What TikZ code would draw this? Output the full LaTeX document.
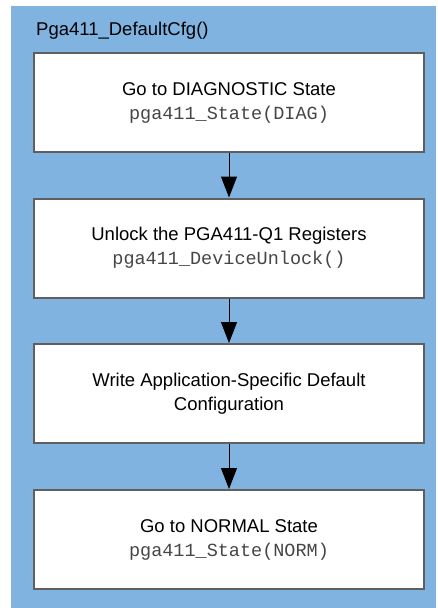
\documentclass[tikz,border=0pt]{standalone}
\usepackage{fontspec}
\setmainfont{Liberation Sans}
\setmonofont{Liberation Mono}
\usetikzlibrary{arrows.meta}
\definecolor{bgblue}{RGB}{128,179,224}
\definecolor{boxgrey}{RGB}{95,95,95}
\definecolor{codegrey}{RGB}{70,70,70}
\newcommand{\codetxt}[1]{{\color{codegrey}\texttt{#1}}}
\begin{document}
\begin{tikzpicture}[x=1pt,y=-1pt,
  stepbox/.style={draw=boxgrey,line width=2pt,fill=white,minimum width=390pt,minimum height=99pt,
    align=center,inner sep=0pt,font=\fontsize{18.5}{24}\selectfont},
  flow/.style={draw=black,line width=1pt,-{Triangle[width=16pt,length=21pt]}}]
\useasboundingbox (0,0) rectangle (438,608);
\fill[bgblue] (11,6) rectangle (436,608);
\node[anchor=west,inner sep=0pt,font=\fontsize{18.5}{22}\selectfont] (title) at (36,31) {Pga411\_DefaultCfg()};
\node[stepbox] (s1) at (229,102.5) {Go to DIAGNOSTIC State\\\codetxt{pga411\_State(DIAG)}};
\node[stepbox] (s2) at (229,248) {Unlock the PGA411-Q1 Registers\\\codetxt{pga411\_DeviceUnlock()}};
\node[stepbox] (s3) at (229,393.5) {Write Application-Specific Default\\Configuration};
\node[stepbox] (s4) at (229,539.5) {Go to NORMAL State\\\codetxt{pga411\_State(NORM)}};
\draw[flow] (s1) -- (s2);
\draw[flow] (s2) -- (s3);
\draw[flow] (s3) -- (s4);
\end{tikzpicture}
\end{document}
